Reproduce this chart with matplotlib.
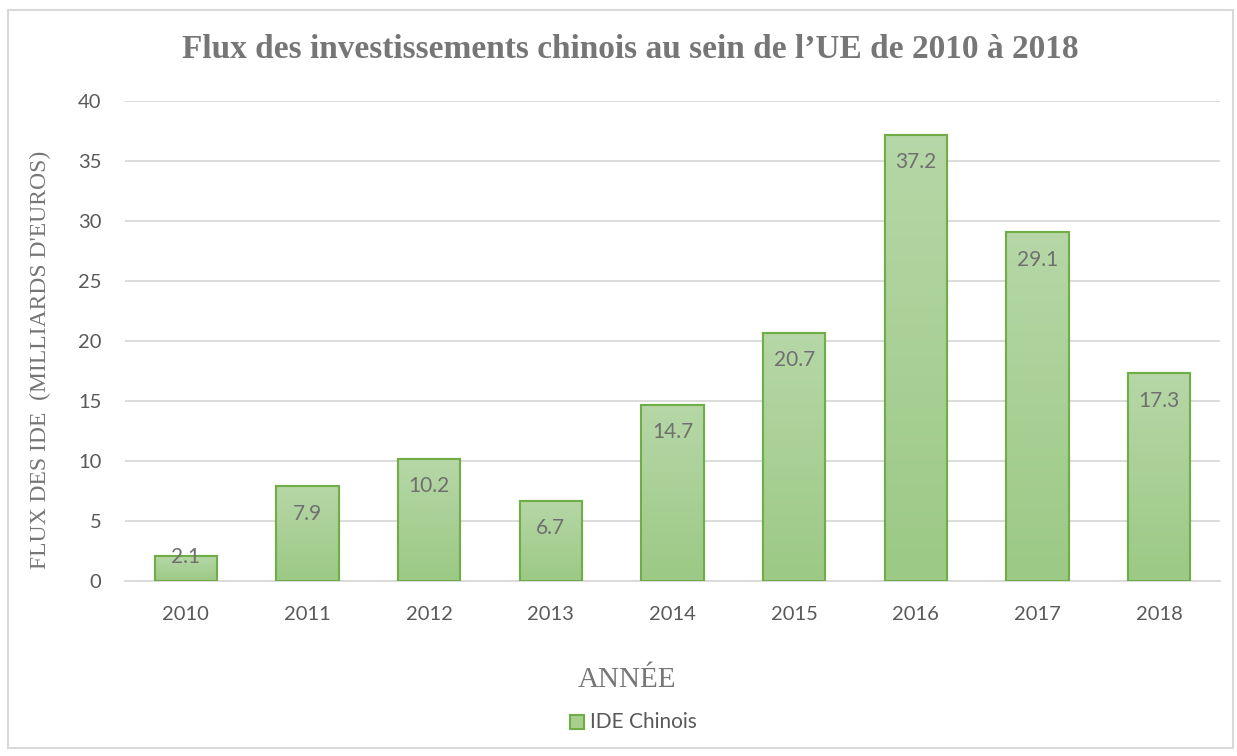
import matplotlib
matplotlib.use("Agg")
import matplotlib.pyplot as plt
import numpy as np
from matplotlib.patches import Rectangle
from matplotlib.colors import LinearSegmentedColormap

years = ["2010", "2011", "2012", "2013", "2014", "2015", "2016", "2017", "2018"]
values = [2.1, 7.9, 10.2, 6.7, 14.7, 20.7, 37.2, 29.1, 17.3]
yticks = [0, 5, 10, 15, 20, 25, 30, 35, 40]
title = "Flux des investissements chinois au sein de l\u2019UE de 2010 à 2018"
ylabel = "FLUX DES IDE  (MILLIARDS D'EUROS)"
xlabel = "ANNÉE"
series_name = "IDE Chinois"

W, H = 1237, 756
fig = plt.figure(figsize=(W / 100, H / 100), dpi=100)
fig.patch.set_facecolor("white")

# outer chart frame
fig.patches.append(Rectangle((8 / W, 1 - 748 / H), (1233 - 8) / W, (748 - 10) / H,
                             transform=fig.transFigure, fill=False,
                             edgecolor="#d9d9d9", lw=1.5))

ax = fig.add_axes([125 / W, 1 - 581 / H, (1220 - 125) / W, (581 - 101) / H])
x = np.arange(len(years))
edge = "#70ad47"
bars = ax.bar(x, values, width=0.51, facecolor="#a8d08d", edgecolor=edge, lw=1.5, zorder=3)

cmap = LinearSegmentedColormap.from_list("g", ["#9cc985", "#b6d7a7"])
grad = np.linspace(0, 1, 256).reshape(-1, 1)
for b in bars:
    bx, by = b.get_x(), b.get_y()
    bw, bh = b.get_width(), b.get_height()
    im = ax.imshow(grad, cmap=cmap, extent=[bx, bx + bw, by, by + bh],
                   origin="lower", aspect="auto", zorder=3.5)
    im.set_clip_path(b)
    ax.add_patch(Rectangle((bx, by), bw, bh, fill=False, edgecolor=edge, lw=1.5, zorder=4))

# inside-end labels; labels that do not fit are centred on the bar top
for xi, v in zip(x, values):
    off = -20 if v >= 4 else -1
    ax.annotate(f"{v}", (xi, v), xytext=(0, off), textcoords="offset points",
                ha="center", va="center", fontsize=15, color="#6f6f6f",
                family="Lato", zorder=5)

ax.set_xlim(-0.5, len(years) - 0.5)
ax.set_ylim(0, 40)
ax.set_yticks(yticks)
ax.set_xticks(x)
ax.set_xticklabels(years)
ax.grid(axis="y", color="#d9d9d9", lw=1.3, zorder=0)
ax.set_axisbelow(True)
for s in ["top", "right", "left"]:
    ax.spines[s].set_visible(False)
ax.spines["bottom"].set_color("#d9d9d9")
ax.spines["bottom"].set_linewidth(1.3)
ax.tick_params(axis="both", length=0, labelsize=14.5, labelcolor="#595959")
ax.tick_params(axis="x", pad=18)
ax.tick_params(axis="y", pad=17)
for t in ax.get_xticklabels() + ax.get_yticklabels():
    t.set_family("Lato")

fig.text(630 / W, 1 - 50 / H, title, ha="center", va="center", fontsize=24,
         fontweight="bold", family="Liberation Serif", color="#767676")
fig.text(40 / W, 1 - 360 / H, ylabel, ha="center", va="center", rotation=90,
         fontsize=17, family="Liberation Serif", color="#767676")
fig.text(627 / W, 1 - 680 / H, xlabel, ha="center", va="center", fontsize=21,
         family="Liberation Serif", color="#767676")

# legend
fig.patches.append(Rectangle((570 / W, 1 - 729 / H), 14 / W, 14 / H, transform=fig.transFigure,
                             facecolor="#a8d08d", edgecolor=edge, lw=1.5))
fig.text(590 / W, 1 - 722 / H, series_name, ha="left", va="center", fontsize=15,
         family="Lato", color="#595959")

fig.savefig("out.png", dpi=100, facecolor="white")
